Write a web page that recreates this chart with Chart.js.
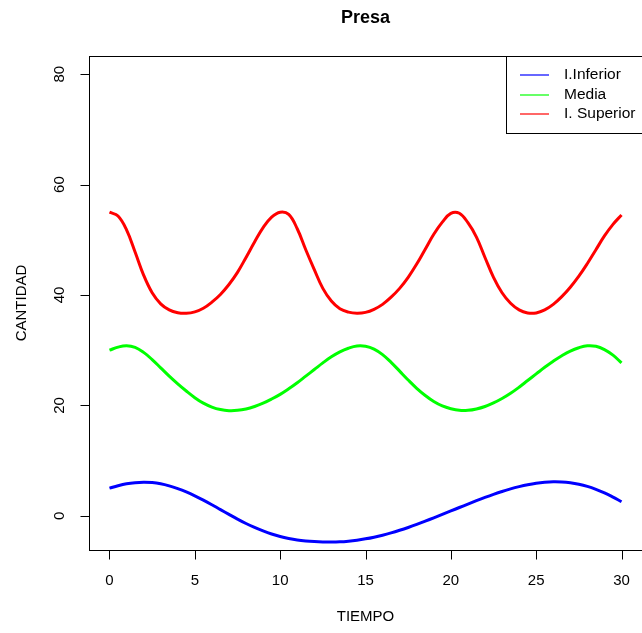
<!DOCTYPE html>
<html>
<head>
<meta charset="utf-8">
<script src="https://cdn.jsdelivr.net/npm/chart.js@4/dist/chart.umd.min.js"></script>
<style>
html,body{margin:0;padding:0;background:#fff;}
#wrap{width:642px;height:633px;}
</style>
</head>
<body>
<div id="wrap"><canvas id="c" width="642" height="633"></canvas></div>
<script>
const chartTitle = "Presa";
const xTitle = "TIEMPO";
const yTitle = "CANTIDAD";
const seriesNames = ["I.Inferior", "Media", "I. Superior"];
const seriesColors = ["#0000ff", "#00ff00", "#ff0000"];
const xTicks = [0, 5, 10, 15, 20, 25, 30];
const yTicks = [0, 20, 40, 60, 80];

const tiempo = [0,0.5,1,1.5,2,2.5,3,3.5,4,4.5,5,5.5,6,6.5,7,7.5,8,8.5,9,9.5,10,
  10.5,11,11.5,12,12.5,13,13.5,14,14.5,15,15.5,16,16.5,17,17.5,18,18.5,19,19.5,20,
  20.5,21,21.5,22,22.5,23,23.5,24,24.5,25,25.5,26,26.5,27,27.5,28,28.5,29,29.5,30];

const inferior = [5.0,5.45,5.8,6.0,6.08,6.02,5.8,5.42,4.92,4.32,3.62,2.84,2.0,1.12,0.25,-0.6,-1.4,-2.12,-2.75,-3.3,-3.75,
  -4.1,-4.37,-4.55,-4.67,-4.74,-4.76,-4.72,-4.6,-4.42,-4.18,-3.88,-3.52,-3.1,-2.63,-2.12,-1.57,-0.98,-0.37,0.25,0.87,
  1.5,2.12,2.73,3.32,3.88,4.4,4.87,5.28,5.63,5.9,6.07,6.15,6.12,5.98,5.72,5.33,4.8,4.15,3.38,2.55];

const media = [30.0,30.55,30.8,30.5,29.6,28.3,26.8,25.3,23.9,22.6,21.4,20.4,19.7,19.25,19.05,19.1,19.35,19.8,20.4,21.15,22.0,
  23.0,24.1,25.3,26.5,27.7,28.8,29.7,30.35,30.75,30.7,30.2,29.2,27.8,26.2,24.6,23.1,21.8,20.7,19.9,19.4,
  19.1,19.1,19.35,19.8,20.45,21.25,22.2,23.3,24.5,25.7,26.9,28.0,29.0,29.85,30.45,30.8,30.7,30.1,29.1,27.7];

const superior = [55.0,54.3,51.8,47.8,43.6,40.4,38.4,37.3,36.8,36.7,36.95,37.6,38.7,40.1,41.9,44.1,46.8,49.6,52.2,54.1,55.0,
  54.6,52.0,48.2,44.6,41.2,38.9,37.5,36.9,36.7,36.85,37.4,38.3,39.6,41.2,43.2,45.6,48.3,51.0,53.2,54.8,
  54.8,53.1,50.5,46.8,43.2,40.4,38.5,37.3,36.75,36.75,37.3,38.3,39.7,41.4,43.4,45.7,48.2,50.7,52.8,54.5];

const seriesValues = [inferior, media, superior];

const FONT = '"Liberation Sans", Arial, Helvetica, sans-serif';

const rPlot = {
  id: 'rplot',
  afterDraw(chart) {
    const ctx = chart.ctx;
    const a = chart.chartArea;
    const xs = chart.scales.x, ys = chart.scales.y;
    ctx.save();
    ctx.strokeStyle = '#000';
    ctx.fillStyle = '#000';
    ctx.lineWidth = 1;
    // box
    ctx.strokeRect(Math.round(a.left) + 0.5, Math.round(a.top) + 0.5,
      Math.round(a.right - a.left), Math.round(a.bottom - a.top));
    // x axis ticks
    const tickLen = 9;
    ctx.font = '15px ' + FONT;
    ctx.textAlign = 'center';
    ctx.textBaseline = 'middle';
    const xb = Math.round(a.bottom) + 0.5;
    ctx.beginPath();
    ctx.moveTo(Math.round(xs.getPixelForValue(xTicks[0])) + 0.5, xb);
    ctx.lineTo(Math.round(xs.getPixelForValue(xTicks[xTicks.length - 1])) + 0.5, xb);
    xTicks.forEach(v => {
      const px = Math.round(xs.getPixelForValue(v)) + 0.5;
      ctx.moveTo(px, xb);
      ctx.lineTo(px, xb + tickLen);
    });
    ctx.stroke();
    xTicks.forEach(v => {
      ctx.fillText(String(v), xs.getPixelForValue(v), a.bottom + 31);
    });
    // y axis ticks
    const yl = Math.round(a.left) + 0.5;
    ctx.beginPath();
    ctx.moveTo(yl, Math.round(ys.getPixelForValue(yTicks[0])) + 0.5);
    ctx.lineTo(yl, Math.round(ys.getPixelForValue(yTicks[yTicks.length - 1])) + 0.5);
    yTicks.forEach(v => {
      const py = Math.round(ys.getPixelForValue(v)) + 0.5;
      ctx.moveTo(yl, py);
      ctx.lineTo(yl - tickLen, py);
    });
    ctx.stroke();
    yTicks.forEach(v => {
      ctx.save();
      ctx.translate(a.left - 29, ys.getPixelForValue(v));
      ctx.rotate(-Math.PI / 2);
      ctx.fillText(String(v), 0, 0);
      ctx.restore();
    });
    // axis titles
    ctx.fillText(xTitle, (a.left + a.right) / 2, 617);
    ctx.save();
    ctx.translate(22, (a.top + a.bottom) / 2);
    ctx.rotate(-Math.PI / 2);
    ctx.fillText(yTitle, 0, 0);
    ctx.restore();
    // title
    ctx.font = 'bold 18px ' + FONT;
    ctx.fillText(chartTitle, (a.left + a.right) / 2, 18);
    // legend
    const lx = 506.5, ly = Math.round(a.top) + 0.5;
    ctx.fillStyle = '#fff';
    ctx.fillRect(lx, ly, 200, 77);
    ctx.strokeStyle = '#000';
    ctx.strokeRect(lx, ly, 200, 77);
    ctx.font = '15.5px ' + FONT;
    ctx.textAlign = 'left';
    const rows = [75, 94.5, 114];
    seriesNames.forEach((n, i) => {
      ctx.strokeStyle = seriesColors[i];
      ctx.lineWidth = 1.2;
      ctx.beginPath();
      ctx.moveTo(520, Math.round(rows[i]));
      ctx.lineTo(549, Math.round(rows[i]));
      ctx.stroke();
      ctx.fillStyle = '#000';
      ctx.fillText(n, 564, rows[i]);
    });
    ctx.restore();
  }
};

const datasets = seriesNames.map((n, i) => ({
  label: n,
  data: tiempo.map((t, k) => ({ x: t, y: seriesValues[i][k] })),
  borderColor: seriesColors[i],
  borderWidth: 3,
  pointRadius: 0,
  fill: false,
  tension: 0.4
}));

new Chart(document.getElementById('c'), {
  type: 'line',
  data: { datasets },
  options: {
    responsive: false,
    animation: false,
    layout: { padding: { left: 89, top: 56, right: 0, bottom: 83 } },
    plugins: { legend: { display: false }, title: { display: false }, tooltip: { enabled: false } },
    scales: {
      x: { type: 'linear', display: false, min: -1.2, max: 31.2 },
      y: { type: 'linear', display: false, min: -6.2, max: 83.3 }
    }
  },
  plugins: [rPlot]
});
</script>
</body>
</html>
